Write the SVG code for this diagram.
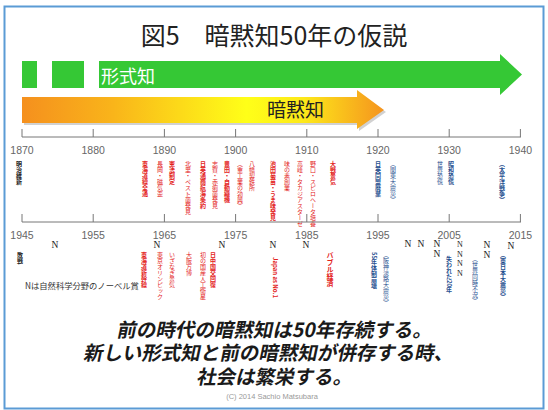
<svg xmlns="http://www.w3.org/2000/svg" width="548" height="410" viewBox="0 0 548 410">
<defs>
<linearGradient id="og" gradientUnits="userSpaceOnUse" x1="22" y1="0" x2="384" y2="0">
<stop offset="0" stop-color="#f5901e"/>
<stop offset="0.25" stop-color="#f9b41a"/>
<stop offset="0.62" stop-color="#ffff18"/>
<stop offset="0.78" stop-color="#fde81a"/>
<stop offset="1" stop-color="#f5941e"/>
</linearGradient>
<style>
.v{writing-mode:vertical-rl;font-family:"Noto Sans CJK JP","Noto Sans CJK SC",sans-serif;font-size:6px}
.r{fill:#e3231c}.b{fill:#1f4f8f}.k{fill:#222}.bd{font-weight:700}
.yr{font-family:"Liberation Sans",Arial,sans-serif;font-size:10.5px;fill:#666;text-anchor:middle}
.ax{stroke:#777;stroke-width:1;fill:none}
.n{font-family:"Liberation Serif","Times New Roman",serif;font-size:9.5px;fill:#222;text-anchor:middle}
.ns{font-family:"Liberation Serif","Times New Roman",serif;font-size:8px;fill:#222;text-anchor:middle}
.msg{font-family:"Noto Sans CJK JP","Noto Sans CJK SC",sans-serif;font-weight:700;font-size:19.5px;fill:#1a1a1a;text-anchor:middle}
</style>
</defs>
<rect x="0" y="0" width="548" height="410" fill="#fff"/>
<rect x="4.5" y="6.5" width="539" height="402" fill="none" stroke="#5b9bd5" stroke-width="2"/>
<g id="title">
<text x="274" y="45" text-anchor="middle" font-family="Noto Sans CJK JP, Noto Sans CJK SC, sans-serif" font-size="25" fill="#222">図5　暗黙知50年の仮説</text>
</g>
<g id="formal-arrow" fill="#35c835">
<rect x="22" y="61" width="15" height="27"/>
<rect x="52" y="61" width="32" height="27"/>
<polygon points="99,61 500,61 500,54 522,74.5 500,95 500,88 99,88"/>
<text x="101" y="83" font-family="Noto Sans CJK JP, Noto Sans CJK SC, sans-serif" font-size="18" fill="#fff">形式知</text>
</g>
<g id="tacit-arrow">
<polygon points="24,99 359,99 359,93 386,112 359,131 359,125 24,125" fill="#9a9a9a" opacity="0.45"/>
<polygon points="22,97 357,97 357,90 384,110 357,129 357,123 22,123" fill="url(#og)"/>
<text x="267" y="117" font-family="Noto Sans CJK JP, Noto Sans CJK SC, sans-serif" font-size="19" fill="#222">暗黙知</text>
</g>
<g id="timeline-1870">
<path class="ax" d="M22,137H521M22,129V137M93.2,129V137M164.4,129V137M235.6,129V137M306.8,129V137M378,129V137M449.2,129V137M520.4,129V137"/>
<text class="yr" x="22" y="154">1870</text>
<text class="yr" x="93.2" y="154">1880</text>
<text class="yr" x="164.4" y="154">1890</text>
<text class="yr" x="235.6" y="154">1900</text>
<text class="yr" x="306.8" y="154">1910</text>
<text class="yr" x="378" y="154">1920</text>
<text class="yr" x="449.2" y="154">1930</text>
<text class="yr" x="520.4" y="154">1940</text>
</g>
<g id="events-1870">
<text class="v k bd" x="19" y="161">明治維新</text>
<text class="v r bd" x="145" y="161">東海道線全通</text>
<text class="v r" x="160" y="161">長岡・磁気歪</text>
<text class="v r bd" x="172" y="161">憲法制定</text>
<text class="v r" x="188" y="161">北里・ペスト菌発見</text>
<text class="v r bd" x="203" y="161">日英通商航海条約</text>
<text class="v r" x="215" y="161">志賀・赤痢菌発見</text>
<text class="v r bd" x="227" y="161">豊田・自動織機</text>
<text class="v r" x="240" y="161">（重工業の勃興）</text>
<text class="v r" x="252" y="161">八幡製鉄所</text>
<text class="v r bd" x="273" y="161">池田菊苗・うま味発見</text>
<text class="v r" x="287" y="161">味の素創業</text>
<text class="v r" x="300" y="161">高峰・タカジアスターゼ</text>
<text class="v r" x="313" y="161">野口・スピロヘータ培養</text>
<text class="v r bd" x="333" y="161">大戦景気</text>
<text class="v b bd" x="378" y="161">日英同盟廃棄</text>
<text class="v b" x="393" y="161">（関東大震災）</text>
<text class="v b" x="440" y="161">世界恐慌</text>
<text class="v b bd" x="451" y="161">昭和恐慌</text>
<text class="v b bd" x="502" y="161">（太平洋戦争）</text>
</g>
<g id="timeline-1945">
<path class="ax" d="M22,222H521M22,214V222M93.2,214V222M164.4,214V222M235.6,214V222M306.8,214V222M378,214V222M449.2,214V222M520.4,214V222"/>
<text class="yr" x="22" y="239">1945</text>
<text class="yr" x="93.2" y="239">1955</text>
<text class="yr" x="164.4" y="239">1965</text>
<text class="yr" x="235.6" y="239">1975</text>
<text class="yr" x="306.8" y="239">1985</text>
<text class="yr" x="378" y="239">1995</text>
<text class="yr" x="449.2" y="239">2005</text>
<text class="yr" x="520.4" y="239">2015</text>
</g>
<g id="nobel">
<text class="n" x="55" y="247.5">N</text>
<text class="n" x="157" y="247.5">N</text>
<text class="n" x="222" y="247.5">N</text>
<text class="n" x="273" y="247.5">N</text>
<text class="n" x="306" y="247.5">N</text>
<text class="n" x="408" y="247">N</text>
<text class="n" x="421" y="247">N</text>
<text class="n" x="437" y="247">N</text>
<text class="n" x="437" y="257">N</text>
<text class="ns" x="460" y="247">N</text>
<text class="ns" x="460" y="256.5">N</text>
<text class="ns" x="460" y="266">N</text>
<text class="ns" x="460" y="275.5">N</text>
<text class="n" x="487" y="248">N</text>
<text class="n" x="487" y="258">N</text>
<text class="n" x="511" y="248.5">N</text>
<text x="25" y="289" font-family="Noto Sans CJK JP, Noto Sans CJK SC, sans-serif" font-size="8.3" fill="#333">Nは自然科学分野のノーベル賞</text>
</g>
<g id="events-1945">
<text class="v k bd" x="20" y="252">敗戦</text>
<text class="v r bd" x="144" y="252">東海道新幹線</text>
<text class="v r" x="160" y="252">東京オリンピック</text>
<text class="v r" x="172" y="252">いざなぎ景気</text>
<text class="v r" x="189" y="252">大阪万博</text>
<text class="v r" x="203" y="252">初の国産人工衛星</text>
<text class="v r bd" x="213" y="252">日中国交回復</text>
<text class="v r bd" x="275" y="257">Japan as No.1</text>
<text class="v r bd" x="330" y="252" style="font-size:7px">バブル経済</text>
<text class="v b bd" x="374" y="252">55年体制崩壊</text>
<text class="v b" x="386" y="252">（阪神淡路大震災）</text>
<text class="v b bd" x="449" y="256">失われた20年</text>
<text class="v b" x="475" y="256">（世界同時不況）</text>
<text class="v b bd" x="503" y="252">（東日本大震災）</text>
</g>
<g id="message">
<text class="msg" transform="translate(274,337) skewX(-12)">前の時代の暗黙知は50年存続する。</text>
<text class="msg" transform="translate(268,360) skewX(-12)">新しい形式知と前の暗黙知が併存する時、</text>
<text class="msg" transform="translate(274,384) skewX(-12)">社会は繁栄する。</text>
<text x="272" y="399" text-anchor="middle" font-family="Liberation Sans, Arial, sans-serif" font-size="7.5" fill="#999">(C) 2014 Sachio Matsubara</text>
</g>
</svg>
